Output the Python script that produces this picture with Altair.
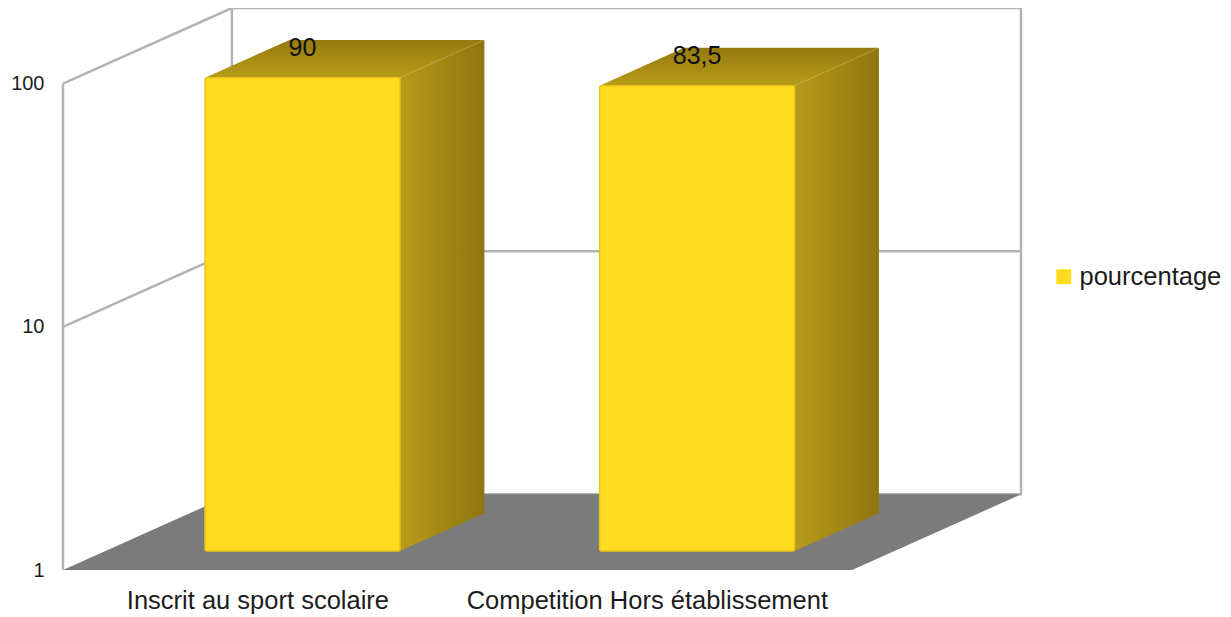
import math
import altair as alt
import pandas as pd

categories = ["Inscrit au sport scolaire", "Competition Hors établissement"]
values = [90, 83.5]
value_labels = ["90", "83,5"]
series_name = "pourcentage"
y_ticks = [1, 10, 100]
label_slots = [0.494, 1.481]

# 3D projection, in axis units: one category slot wide, one depth unit deep
SLOTS = 2
DEPTH_X = 0.428      # category slots moved per depth unit
DEPTH_Y = 0.311      # decades moved per depth unit
BAR_NEAR, BAR_FAR = 0.25, 0.75
BAR_LEFT, BAR_RIGHT = 0.253, 0.747
BAR_SCALE = 0.996    # foreshortening of bar height

FONT = "Liberation Sans"
TEXT = "#1c1c1c"
GRID = "#b3b3b3"
FLOOR = "#7b7b7b"
BAR = "#ffdc20"


def px(slot, depth):
    return slot + depth * DEPTH_X


def py(value, depth):
    return value * 10 ** (depth * DEPTH_Y)


def bar_top(value):
    return value ** BAR_SCALE


x_s = alt.Scale(domain=[0, px(SLOTS, 1)], nice=False, zero=False)
y_s = alt.Scale(type="log", domain=[1, py(100, 1)], nice=False)
y_axis = alt.Axis(values=y_ticks, format="d", domain=False, ticks=False, grid=False,
                  labelFont=FONT, labelFontSize=20, labelColor=TEXT, labelPadding=19)
X = alt.X("x:Q", scale=x_s, axis=None, title=None)
Y = alt.Y("y:Q", scale=y_s, axis=y_axis, title=None)

# walls and grid
segments = []
for gid, pts in enumerate([
    [(0, 100, 0), (0, 100, 1), (SLOTS, 100, 1), (SLOTS, 1, 1), (0, 1, 1), (0, 100, 1)],
    [(0, 1, 0), (0, 100, 0)],
    [(0, 10, 0), (0, 10, 1), (SLOTS, 10, 1)],
]):
    for i, (s, v, d) in enumerate(pts):
        segments.append({"g": gid, "i": i, "x": px(s, d), "y": py(v, d)})
lines = alt.Chart(pd.DataFrame(segments)).mark_line(
    color=GRID, strokeWidth=2.5, strokeJoin="miter"
).encode(x=X, y=Y, detail="g:N", order="i:Q")

# floor
floor_df = pd.DataFrame([
    {"x": px(0, 0), "y": py(1, 0), "y2": py(1, 0)},
    {"x": px(0, 1), "y": py(1, 1), "y2": py(1, 0)},
    {"x": px(SLOTS, 0), "y": py(1, 1), "y2": py(1, 0)},
    {"x": px(SLOTS, 1), "y": py(1, 1), "y2": py(1, 1)},
])
floor = alt.Chart(floor_df).mark_area(color=FLOOR).encode(x=X, y=Y, y2="y2:Q")

# bars
side_rows, top_rows, front_rows, text_rows = [], [], [], []
for i, (cat, v, lab) in enumerate(zip(categories, values, value_labels)):
    l, r = i + BAR_LEFT, i + BAR_RIGHT
    t = bar_top(v)
    side_rows += [
        {"b": i, "x": px(r, BAR_NEAR), "y": py(t, BAR_NEAR), "y2": py(1, BAR_NEAR)},
        {"b": i, "x": px(r, BAR_FAR), "y": py(t, BAR_FAR), "y2": py(1, BAR_FAR)},
    ]
    top_rows += [
        {"b": i, "x": px(l, BAR_NEAR), "y": py(t, BAR_NEAR), "y2": py(t, BAR_NEAR)},
        {"b": i, "x": px(l, BAR_FAR), "y": py(t, BAR_FAR), "y2": py(t, BAR_NEAR)},
        {"b": i, "x": px(r, BAR_NEAR), "y": py(t, BAR_FAR), "y2": py(t, BAR_NEAR)},
        {"b": i, "x": px(r, BAR_FAR), "y": py(t, BAR_FAR), "y2": py(t, BAR_FAR)},
    ]
    front_rows.append({"x": px(l, BAR_NEAR), "x2": px(r, BAR_NEAR),
                       "y": py(t, BAR_NEAR), "y2": py(1, BAR_NEAR), "s": series_name})
    text_rows.append({"x": px((l + r) / 2, BAR_NEAR), "y": py(t, BAR_NEAR), "t": lab})

side_grad = alt.Gradient(gradient="linear", x1=0, x2=1, y1=0, y2=0, stops=[
    alt.GradientStop(offset=0, color="#b89a1a"),
    alt.GradientStop(offset=1, color="#8f760f"),
])
top_grad = alt.Gradient(gradient="linear", x1=0, x2=0, y1=1, y2=0, stops=[
    alt.GradientStop(offset=0, color="#b89c18"),
    alt.GradientStop(offset=1, color="#957a10"),
])
sides = alt.Chart(pd.DataFrame(side_rows)).mark_area(color=side_grad).encode(
    x=X, y=Y, y2="y2:Q", detail="b:N")
tops = alt.Chart(pd.DataFrame(top_rows)).mark_area(color=top_grad).encode(
    x=X, y=Y, y2="y2:Q", detail="b:N")
fronts = alt.Chart(pd.DataFrame(front_rows)).mark_rect(
    stroke="#e8c41e", strokeWidth=1.5, cornerRadius=2
).encode(
    x=X, x2="x2:Q", y=Y, y2="y2:Q",
    color=alt.Color("s:N", title=None,
                    scale=alt.Scale(domain=[series_name], range=[BAR]),
                    legend=alt.Legend(orient="none", legendX=988, legendY=256, symbolType="square",
                                      symbolSize=225, symbolStrokeWidth=0, labelFont=FONT,
                                      labelFontSize=25.5, labelColor=TEXT, labelOffset=3,
                                      padding=0)),
)
value_text = alt.Chart(pd.DataFrame(text_rows)).mark_text(
    font=FONT, fontSize=25, color="#111111", dy=-30, baseline="middle"
).encode(x=X, y=Y, text="t:N")

cat_text = alt.Chart(pd.DataFrame({"x": label_slots, "y": [1, 1], "t": categories})).mark_text(
    font=FONT, fontSize=25.5, color=TEXT, dy=31, baseline="middle"
).encode(x=X, y=Y, text="t:N")

chart = alt.layer(lines, floor, sides, tops, fronts, value_text, cat_text).properties(
    width=958, height=562,
    autosize=alt.AutoSizeParams(type="none"),
    padding={"left": 55, "top": 0, "right": 202, "bottom": 45},
    background="white",
).configure_view(stroke=None)

chart.save("out.html", embed_options={"renderer": "svg", "actions": False})
